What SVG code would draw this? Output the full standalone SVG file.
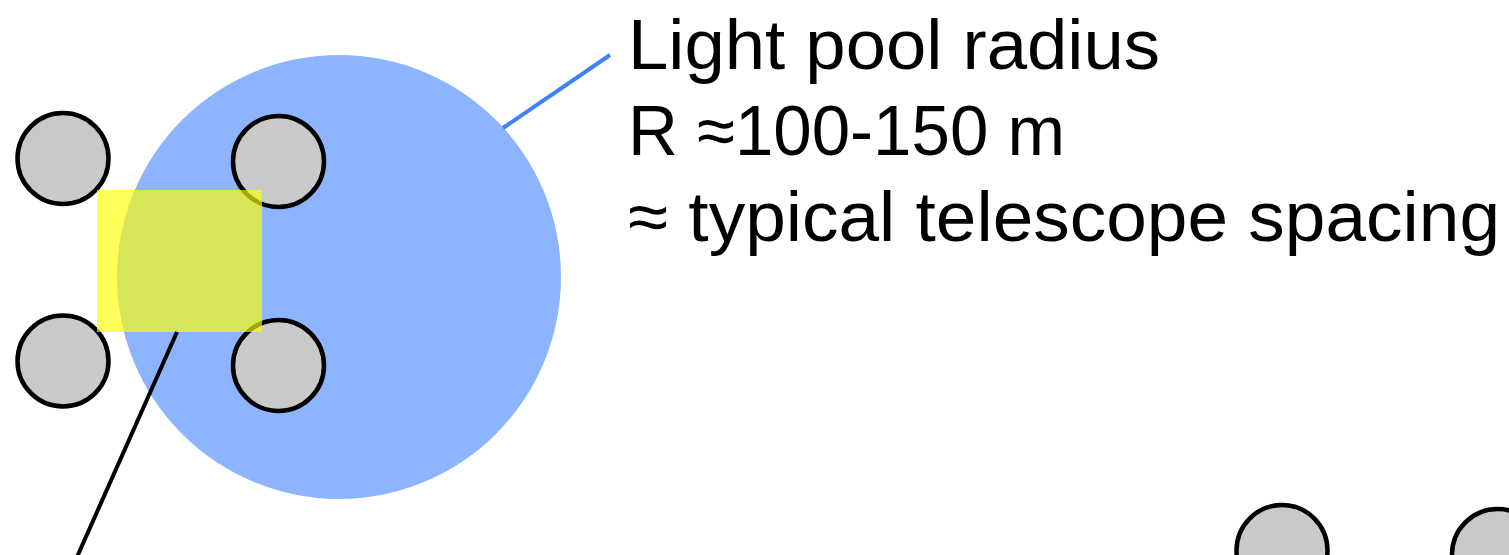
<svg xmlns="http://www.w3.org/2000/svg" width="1509" height="555" viewBox="0 0 1509 555">
  <style>
    .tel { fill: #c9c9c9; stroke: #000; stroke-width: 4.5; }
    .lbl { font-family: "Liberation Sans", Arial, sans-serif; font-size: 71px; fill: #000; }
  </style>
  <rect width="1509" height="555" fill="#fff"/>
  <g id="lightpool">
    <circle cx="339" cy="277" r="222" fill="#8db4fe"/>
  </g>
  <g id="telescopes">
    <circle id="tel1" class="tel" cx="63" cy="158.5" r="45.5"/>
    <circle id="tel2" class="tel" cx="278.5" cy="161.5" r="45.5"/>
    <circle id="tel3" class="tel" cx="63" cy="361" r="45.5"/>
    <circle id="tel4" class="tel" cx="278.5" cy="365.5" r="45.5"/>
    <circle id="tel5" class="tel" cx="1282" cy="550.5" r="45.5"/>
    <circle id="tel6" class="tel" cx="1497.5" cy="554.5" r="45.5"/>
  </g>
  <g id="area">
    <rect x="97" y="190" width="165" height="142" fill="#ffff00" fill-opacity="0.65"/>
  </g>
  <g id="connectors">
    <line x1="503" y1="128" x2="610" y2="55" stroke="#3f82f7" stroke-width="4"/>
    <line x1="177" y1="332" x2="77" y2="557" stroke="#000" stroke-width="4"/>
  </g>
  <g id="label">
    <text class="lbl" x="628" y="69" textLength="532" lengthAdjust="spacingAndGlyphs">Light pool radius</text>
    <text class="lbl" x="628" y="155" textLength="437" lengthAdjust="spacingAndGlyphs">R ≈100-150 m</text>
    <text class="lbl" x="628" y="241" textLength="872" lengthAdjust="spacingAndGlyphs">≈ typical telescope spacing</text>
  </g>
</svg>
